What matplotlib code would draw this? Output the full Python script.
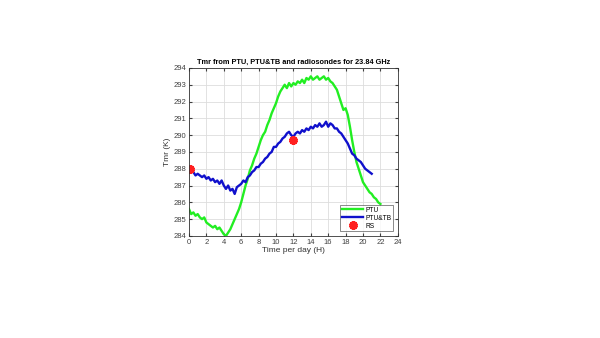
import numpy as np
import matplotlib
matplotlib.use('Agg')
import matplotlib.pyplot as plt

plt.rcParams['font.family'] = ['Liberation Sans', 'DejaVu Sans']

t_ptu = np.arange(0, 22.01, 0.25)
tmr_ptu = [
    285.6, 285.3, 285.4, 285.2,
    285.3, 285.1, 285.0, 285.1,
    284.8, 284.7, 284.6, 284.5,
    284.6, 284.4, 284.5, 284.3,
    284.1, 284.0, 284.2, 284.4,
    284.7, 285.0, 285.3, 285.6,
    286.0, 286.5, 287.0, 287.4,
    287.9, 288.2, 288.6, 288.9,
    289.3, 289.7, 290.0, 290.2,
    290.6, 290.9, 291.3, 291.6,
    291.9, 292.3, 292.6, 292.8,
    293.0, 292.8, 293.1, 292.9,
    293.1, 293.0, 293.2, 293.1,
    293.3, 293.1, 293.4, 293.3,
    293.5, 293.3, 293.4, 293.5,
    293.3, 293.4, 293.5, 293.3,
    293.4, 293.2, 293.1, 292.9,
    292.7, 292.3, 291.9, 291.5,
    291.6, 291.2, 290.5, 289.7,
    289.0, 288.4, 288.0, 287.6,
    287.2, 287.0, 286.8, 286.6,
    286.5, 286.3, 286.2, 286.0,
    285.9,
]

t_tb = np.arange(0, 21.01, 0.25)
tmr_tb = [
    288.0, 287.9, 287.8, 287.6,
    287.7, 287.6, 287.5, 287.6,
    287.4, 287.5, 287.3, 287.4,
    287.2, 287.3, 287.1, 287.3,
    287.0, 286.8, 287.0, 286.7,
    286.8, 286.5, 286.9, 287.0,
    287.1, 287.3, 287.2, 287.5,
    287.6, 287.8, 287.9, 288.1,
    288.1, 288.3, 288.4, 288.6,
    288.7, 288.9, 289.0, 289.3,
    289.3, 289.5, 289.6, 289.8,
    289.9, 290.1, 290.2, 290.0,
    289.9, 290.1, 290.2, 290.1,
    290.3, 290.2, 290.4, 290.3,
    290.5, 290.4, 290.6, 290.5,
    290.7, 290.5, 290.6, 290.8,
    290.5, 290.7, 290.6, 290.4,
    290.4, 290.2, 290.1, 289.9,
    289.7, 289.5, 289.2, 288.9,
    288.8, 288.6, 288.5, 288.4,
    288.2, 288.0, 287.9, 287.8,
    287.7,
]

# radiosonde launches
t_rs = [0.1, 12.0]
tmr_rs = [288.0, 289.7]

fig = plt.figure(figsize=(6, 3.38), dpi=100)
ax = fig.add_axes([0.315, 0.302, 0.348, 0.497])

ax.plot(t_ptu, tmr_ptu, color='#22ee22', linewidth=1.7, label='PTU')
ax.plot(t_tb, tmr_tb, color='#1010cc', linewidth=1.7, label='PTU&TB')
ax.plot(t_rs, tmr_rs, linestyle='none', marker=(6, 2, 0), markersize=6,
        markeredgewidth=2.5, color='#ff2020', label='RS')

ax.set_xlim(0, 24)
ax.set_ylim(284, 294)
ax.set_xticks(np.arange(0, 25, 2))
ax.set_yticks(np.arange(284, 295, 1))
ax.tick_params(labelsize=5.5, colors='#404040', direction='in', length=2,
               top=True, right=True, pad=2)
ax.grid(True, color='#dddddd', linewidth=0.6)
for s in ax.spines.values():
    s.set_color('#333333')
    s.set_linewidth(0.6)

ax.set_title('Tmr from PTU, PTU&TB and radiosondes for 23.84 GHz',
             fontsize=5.3, fontweight='bold', pad=3)
ax.set_xlabel('Time per day (H)', fontsize=6, color='#333333', labelpad=1)
ax.set_ylabel('Tmr (K)', fontsize=6, color='#333333', labelpad=2)

leg = ax.legend(loc='lower right', fontsize=4.8, frameon=True, fancybox=False,
                borderpad=0.25, labelspacing=0.15, handlelength=3.2,
                handletextpad=0.3, borderaxespad=0.7)
leg.get_frame().set_edgecolor('#333333')
leg.get_frame().set_linewidth(0.5)

plt.savefig('out.png', dpi=100)
plt.close()
